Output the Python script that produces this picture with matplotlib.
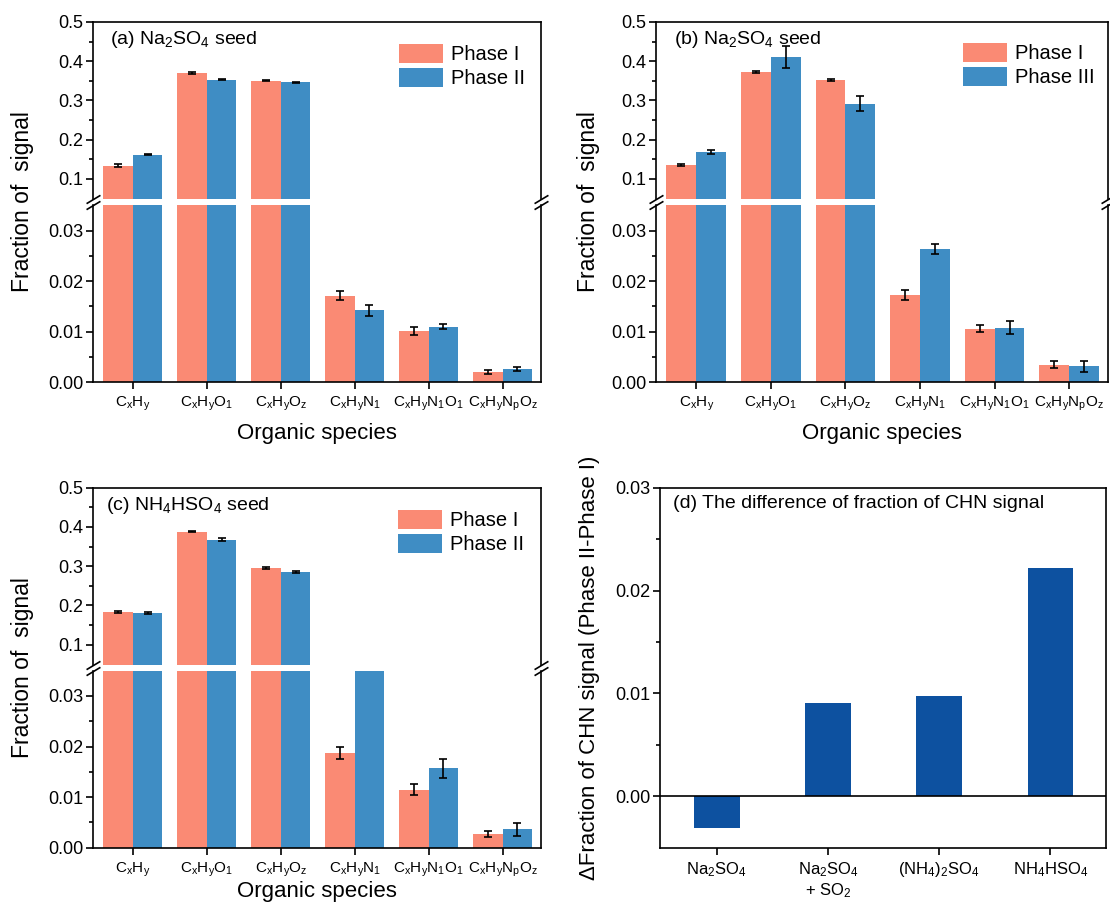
import matplotlib
matplotlib.use('Agg')
import matplotlib.pyplot as plt
import numpy as np
from matplotlib.ticker import FormatStrFormatter

plt.rcParams['font.family'] = 'Liberation Sans'
plt.rcParams['mathtext.fontset'] = 'custom'
plt.rcParams['mathtext.rm'] = 'Liberation Sans'
plt.rcParams['mathtext.default'] = 'regular'

# categories
species = [r'C$_x$H$_y$', r'C$_x$H$_y$O$_1$', r'C$_x$H$_y$O$_z$',
           r'C$_x$H$_y$N$_1$', r'C$_x$H$_y$N$_1$O$_1$', r'C$_x$H$_y$N$_p$O$_z$']
seeds = [r'Na$_2$SO$_4$', 'Na$_2$SO$_4$\n+ SO$_2$', r'(NH$_4$)$_2$SO$_4$', r'NH$_4$HSO$_4$']

# (a) Na2SO4 seed, phase I / phase II
a_p1 = [0.134, 0.370, 0.350, 0.0171, 0.0102, 0.0020]
a_p1_err = [0.003, 0.002, 0.001, 0.0009, 0.0008, 0.0004]
a_p2 = [0.162, 0.353, 0.346, 0.0142, 0.0110, 0.0026]
a_p2_err = [0.002, 0.002, 0.002, 0.0010, 0.0005, 0.0004]

# (b) Na2SO4 seed, phase I / phase III
b_p1 = [0.135, 0.373, 0.352, 0.0173, 0.0106, 0.0035]
b_p1_err = [0.002, 0.002, 0.002, 0.0010, 0.0007, 0.0007]
b_p3 = [0.168, 0.410, 0.292, 0.0264, 0.0108, 0.0032]
b_p3_err = [0.005, 0.028, 0.019, 0.0010, 0.0013, 0.0011]

# (c) NH4HSO4 seed, phase I / phase II
c_p1 = [0.183, 0.388, 0.296, 0.0188, 0.0115, 0.0028]
c_p1_err = [0.002, 0.002, 0.002, 0.0012, 0.0011, 0.0006]
c_p2 = [0.180, 0.367, 0.285, 0.0360, 0.0157, 0.0036]
c_p2_err = [0.003, 0.004, 0.002, 0.0008, 0.0019, 0.0012]

# (d) difference of CHN fraction
d_diff = [-0.0031, 0.0091, 0.0097, 0.0222]

pink = '#FA8A74'
blue = '#3F8DC4'
dblue = '#0D51A0'

W, H = 1110, 905
fig = plt.figure(figsize=(W / 100, H / 100), dpi=100)


def px_axes(l, t, r, b):
    return fig.add_axes([l / W, 1 - b / H, (r - l) / W, (b - t) / H])


def broken_panel(l, r, t, b, v1, e1, v2, e2, lab1, lab2, title, title_xy, leg_xy, xlab_y):
    hh = 177
    up = px_axes(l, t, r, t + hh)
    lo = px_axes(l, b - hh, r, b)
    x = np.arange(len(species))
    w = 0.4
    ekw = dict(elinewidth=1.2, capthick=1.2, ecolor='k')
    for ax in (up, lo):
        ax.bar(x - w / 2, v1, w, color=pink, yerr=e1, capsize=3, error_kw=ekw, label=lab1)
        ax.bar(x + w / 2, v2, w, color=blue, yerr=e2, capsize=3, error_kw=ekw, label=lab2)
        ax.set_xlim(-0.54, 5.52)
        for s in ax.spines.values():
            s.set_linewidth(1.2)
        ax.tick_params(axis='y', which='major', direction='out', length=5, width=1.2, labelsize=13, pad=2)
        ax.tick_params(axis='y', which='minor', direction='out', length=3, width=1.2)
    up.set_ylim(0.049, 0.5)
    up.set_yticks([0.1, 0.2, 0.3, 0.4, 0.5])
    up.set_yticks([0.15, 0.25, 0.35, 0.45], minor=True)
    up.yaxis.set_major_formatter(FormatStrFormatter('%.1f'))
    up.spines['bottom'].set_visible(False)
    up.tick_params(axis='x', bottom=False, labelbottom=False)

    lo.set_ylim(0, 0.035)
    lo.set_yticks([0.0, 0.01, 0.02, 0.03])
    lo.set_yticks([0.005, 0.015, 0.025], minor=True)
    lo.yaxis.set_major_formatter(FormatStrFormatter('%.2f'))
    lo.spines['top'].set_visible(False)
    lo.set_xticks(x)
    lo.set_xticklabels(species)
    lo.tick_params(axis='x', direction='out', length=5, width=1.2, labelsize=11, pad=4)

    # break marks on both spines
    mk = dict(marker=[(-1, -0.6), (1, 0.6)], markersize=10, linestyle='none',
              color='k', mec='k', mew=1.2, clip_on=False)
    up.plot([0, 1], [0, 0], transform=up.transAxes, **mk)
    lo.plot([0, 1], [1, 1], transform=lo.transAxes, **mk)

    up.legend(loc='upper left', bbox_to_anchor=(leg_xy[0] / W, 1 - leg_xy[1] / H),
              bbox_transform=fig.transFigure, frameon=False, borderpad=0,
              borderaxespad=0, handlelength=2.2, handleheight=1.05,
              handletextpad=0.4, labelspacing=0.2, fontsize=14.5)
    fig.text(title_xy[0] / W, 1 - title_xy[1] / H, title, fontsize=14,
             ha='left', va='center')
    fig.text((l + r) / 2 / W, 1 - xlab_y / H, 'Organic species', fontsize=16,
             ha='center', va='center')
    return up, lo


broken_panel(93, 541, 22, 382.3, a_p1, a_p1_err, a_p2, a_p2_err,
             'Phase I', 'Phase II', r'(a) Na$_2$SO$_4$ seed', (110, 39), (399, 44), 433)
broken_panel(656, 1108, 22, 382.3, b_p1, b_p1_err, b_p3, b_p3_err,
             'Phase I', 'Phase III', r'(b) Na$_2$SO$_4$ seed', (674, 39), (963, 43), 433)
broken_panel(93, 541, 487.7, 847.7, c_p1, c_p1_err, c_p2, c_p2_err,
             'Phase I', 'Phase II', r'(c) NH$_4$HSO$_4$ seed', (106, 505), (398, 510), 891)

fig.text(23 / W, 1 - 202 / H, 'Fraction of  signal', rotation=90, fontsize=16.5,
         ha='center', va='center')
fig.text(588 / W, 1 - 202 / H, 'Fraction of  signal', rotation=90, fontsize=16.5,
         ha='center', va='center')
fig.text(23 / W, 1 - 668 / H, 'Fraction of  signal', rotation=90, fontsize=16.5,
         ha='center', va='center')

# (d)
axd = px_axes(660, 487.7, 1106, 847.7)
xd = np.arange(len(seeds))
axd.bar(xd, d_diff, 0.41, color=dblue)
axd.axhline(0, color='k', lw=1.2)
axd.set_xlim(-0.51, 3.5)
axd.set_ylim(-0.005, 0.03)
axd.set_yticks([0.0, 0.01, 0.02, 0.03])
axd.set_yticks([0.005, 0.015, 0.025], minor=True)
axd.yaxis.set_major_formatter(FormatStrFormatter('%.2f'))
axd.set_xticks(xd)
axd.set_xticklabels(seeds)
for s in axd.spines.values():
    s.set_linewidth(1.2)
axd.tick_params(axis='y', which='major', direction='out', length=5, width=1.2, labelsize=13, pad=2)
axd.tick_params(axis='y', which='minor', direction='out', length=3, width=1.2)
axd.tick_params(axis='x', direction='out', length=5, width=1.2, labelsize=12, pad=4)
fig.text(673 / W, 1 - 503 / H, '(d) The difference of fraction of CHN signal',
         fontsize=14, ha='left', va='center')
fig.text(589 / W, 1 - 668 / H, 'ΔFraction of CHN signal (Phase II-Phase I)',
         rotation=90, fontsize=16, ha='center', va='center')

fig.savefig('out.png', dpi=100)
